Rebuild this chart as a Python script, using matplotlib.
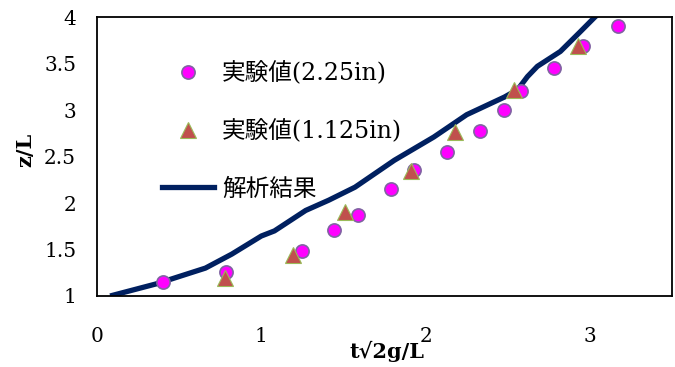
import matplotlib
matplotlib.use("Agg")
import matplotlib.pyplot as plt
from matplotlib.lines import Line2D

# 実験値 (2.25in)
t_225 = [0.40, 0.785, 1.245, 1.44, 1.59, 1.79, 1.93, 2.13, 2.33, 2.48, 2.58, 2.78, 2.955, 3.17]
z_225 = [1.15, 1.26, 1.48, 1.71, 1.87, 2.15, 2.35, 2.55, 2.77, 3.00, 3.20, 3.45, 3.69, 3.90]

# 実験値 (1.125in)
t_1125 = [0.78, 1.19, 1.51, 1.91, 2.18, 2.54, 2.93]
z_1125 = [1.19, 1.44, 1.90, 2.34, 2.76, 3.22, 3.69]

# 解析結果
t_calc = [0.08, 0.36, 0.66, 0.82, 1.00, 1.08, 1.27, 1.41, 1.57, 1.81, 2.05,
          2.25, 2.48, 2.56, 2.62, 2.68, 2.82, 2.94, 3.03, 3.08]
z_calc = [1.00, 1.13, 1.30, 1.45, 1.645, 1.70, 1.92, 2.03, 2.17, 2.46, 2.71,
          2.95, 3.14, 3.22, 3.36, 3.47, 3.63, 3.84, 4.00, 4.08]

plt.rcParams['font.family'] = ['DejaVu Serif', 'Noto Sans CJK JP']

fig = plt.figure(figsize=(6.75, 3.67), dpi=100)
ax = fig.add_axes([0.1437, 0.1935, 0.852, 0.760])

ax.plot(t_calc, z_calc, color='#002060', lw=3.8, solid_capstyle='butt',
        solid_joinstyle='round', zorder=2)
ax.plot(t_225, z_225, 'o', ms=9.5, mfc='#FF00FF', mec='#8064A2', mew=1.2, zorder=3)
ax.plot(t_1125, z_1125, '^', ms=12, mfc='#C0504D', mec='#9BBB59', mew=0.8, zorder=4)

ax.set_xlim(0, 3.5)
ax.set_ylim(1, 4)
ax.set_xticks([0, 1, 2, 3])
ax.set_yticks([1, 1.5, 2, 2.5, 3, 3.5, 4])
ax.set_yticklabels(['1', '1.5', '2', '2.5', '3', '3.5', '4'])
ax.tick_params(axis='both', length=0, labelsize=14.5)
ax.tick_params(axis='x', pad=22)
ax.tick_params(axis='y', pad=15)
for sp in ax.spines.values():
    sp.set_linewidth(1.3)

ax.set_xlabel('t√2g/L', fontweight='bold', fontsize=15)
ax.xaxis.set_label_coords(0.504, -0.20)
ax.xaxis.label.set_va('center')
ax.set_ylabel('z/L', fontweight='bold', fontsize=15)
ax.yaxis.set_label_coords(-0.125, 0.523)
ax.yaxis.label.set_va('center')

handles = [
    Line2D([], [], ls='none', marker='o', ms=9.5, mfc='#FF00FF', mec='#8064A2', mew=1.2),
    Line2D([], [], ls='none', marker='^', ms=12, mfc='#C0504D', mec='#9BBB59', mew=0.8),
    Line2D([], [], color='#002060', lw=3.8),
]
labels = ['実験値(2.25in)', '実験値(1.125in)', '解析結果']
ax.legend(handles, labels, loc='upper left', bbox_to_anchor=(0.113, 0.84),
          frameon=False, borderpad=0, borderaxespad=0, handlelength=2.2,
          handletextpad=0.35, labelspacing=1.45, prop={'size': 17})

fig.savefig('out.png', dpi=100)
